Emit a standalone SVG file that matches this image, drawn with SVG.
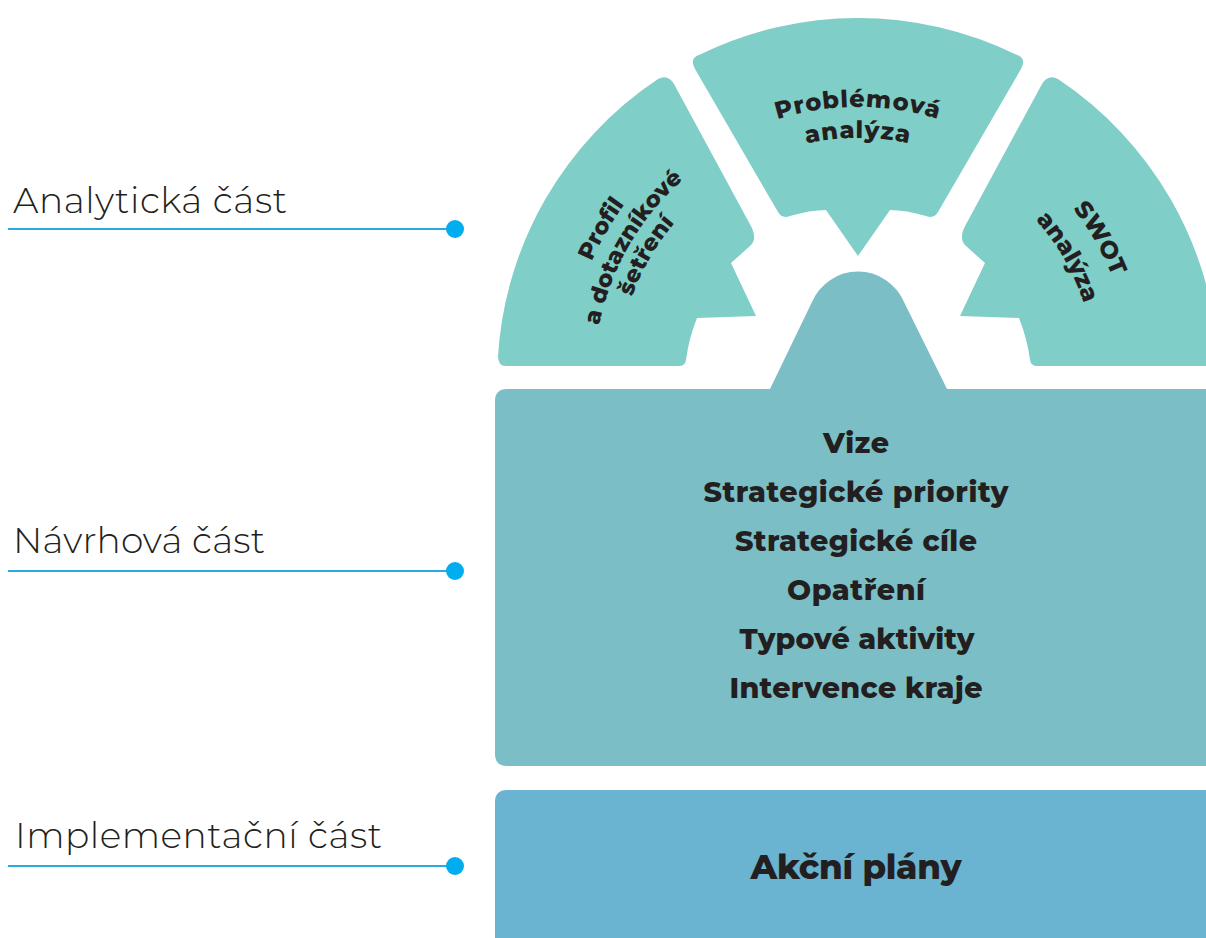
<svg xmlns="http://www.w3.org/2000/svg" width="1206" height="938" viewBox="0 0 1206 938">
<style>
.seg{fill:#80CEC8}
.navrh{fill:#7BBEC6}
.akce{fill:#6AB4D1}
.b{font-family:"Montserrat","Open Sans","Noto Sans",sans-serif;font-weight:800;fill:#231F20}
.lab{font-family:"Montserrat","Lato","Open Sans",sans-serif;font-weight:300;font-size:36px;fill:#231F20}
.ln{stroke:#29ABE2;stroke-width:2;fill:none}
.dot{fill:#00AEEF}
</style>
<defs>
<path id="pProb" d="M 587,378 A 271 271 0 0 1 1129,378"/>
<path id="pAnal" d="M 618,378 A 240 240 0 0 1 1098,378"/>
<path id="pL1" d="M 606,523 A 292 292 0 0 1 858,86"/>
<path id="pL2" d="M 629,510 A 265 265 0 0 1 858,113"/>
<path id="pL3" d="M 650,498 A 240 240 0 0 1 858,138"/>
<path id="pR1" d="M 858,104 A 274 274 0 0 1 1095,515"/>
<path id="pR2" d="M 858,140 A 238 238 0 0 1 1064,497"/>
</defs>
<rect width="1206" height="938" fill="#FFFFFF"/>

<g id="seg-profil">
<path class="seg" d="M 498,356 A 360 360 0 0 1 658,79 Q 668,74 674,84 L 752,228 Q 757,240 750,246 L 731,263 L 756,316 L 697,318 A 172 172 0 0 0 686,360 Q 685,366 679,366 L 506,366 Q 498,366 498,356 Z"/>
<text class="b" font-size="23"><textPath href="#pL1" startOffset="50%" text-anchor="middle">Profil</textPath></text>
<text class="b" font-size="23"><textPath href="#pL2" startOffset="50%" text-anchor="middle">a dotazníkové</textPath></text>
<text class="b" font-size="23"><textPath href="#pL3" startOffset="50%" text-anchor="middle">šetření</textPath></text>
</g>

<g id="seg-problem">
<path class="seg" d="M 700,54.5 A 360 360 0 0 1 1016,54.5 Q 1027,58 1021,69 L 938,212 Q 934,219 926,216 Q 906,210 890,210 L 858,256 L 826,210 Q 810,210 790,216 Q 782,219 778,212 L 695,69 Q 689,58 700,54.5 Z"/>
<text class="b" font-size="24" letter-spacing="1"><textPath href="#pProb" startOffset="50%" text-anchor="middle">Problémová</textPath></text>
<text class="b" font-size="24" letter-spacing="1"><textPath href="#pAnal" startOffset="50%" text-anchor="middle">analýza</textPath></text>
</g>

<g id="seg-swot">
<path class="seg" d="M 1218,356 A 360 360 0 0 0 1058,79 Q 1048,74 1042,84 L 964,228 Q 959,240 966,246 L 985,263 L 960,316 L 1019,318 A 172 172 0 0 1 1030,360 Q 1031,366 1037,366 L 1210,366 Z"/>
<text class="b" font-size="24"><textPath href="#pR1" startOffset="50%" text-anchor="middle">SWOT</textPath></text>
<text class="b" font-size="24"><textPath href="#pR2" startOffset="50%" text-anchor="middle">analýza</textPath></text>
</g>

<g id="navrh">
<path class="navrh" d="M 507,389 L 770,389 L 812,302 A 50 50 0 0 1 904,302 L 947,389 L 1206,389 L 1206,766 L 507,766 Q 495,766 495,754 L 495,401 Q 495,389 507,389 Z"/>
<g class="b" font-size="28.5" text-anchor="middle">
<text x="856" y="453" textLength="66">Vize</text>
<text x="856" y="502" textLength="305">Strategické priority</text>
<text x="856" y="551" textLength="242">Strategické cíle</text>
<text x="856" y="600" textLength="138">Opatření</text>
<text x="857" y="649" textLength="235">Typové aktivity</text>
<text x="856" y="698" textLength="253">Intervence kraje</text>
</g>
</g>

<g id="akce">
<path class="akce" d="M 507,790 L 1206,790 L 1206,938 L 495,938 L 495,802 Q 495,790 507,790 Z"/>
<text class="b" font-size="34" x="856" y="879" text-anchor="middle" textLength="211">Akční plány</text>
</g>

<g id="label-analyticka">
<text class="lab" x="13" y="213" textLength="274">Analytická část</text>
</g>
<g id="label-navrhova">
<text class="lab" x="13" y="553" textLength="252">Návrhová část</text>
</g>
<g id="label-implementacni">
<text class="lab" x="15" y="848" textLength="367">Implementační část</text>
</g>

<g id="connectors">
<line class="ln" x1="8" y1="229" x2="455" y2="229"/>
<circle class="dot" cx="455" cy="229" r="9"/>
<line class="ln" x1="8" y1="571" x2="455" y2="571"/>
<circle class="dot" cx="455" cy="571" r="9"/>
<line class="ln" x1="8" y1="866" x2="455" y2="866"/>
<circle class="dot" cx="455" cy="866" r="9"/>
</g>
</svg>
